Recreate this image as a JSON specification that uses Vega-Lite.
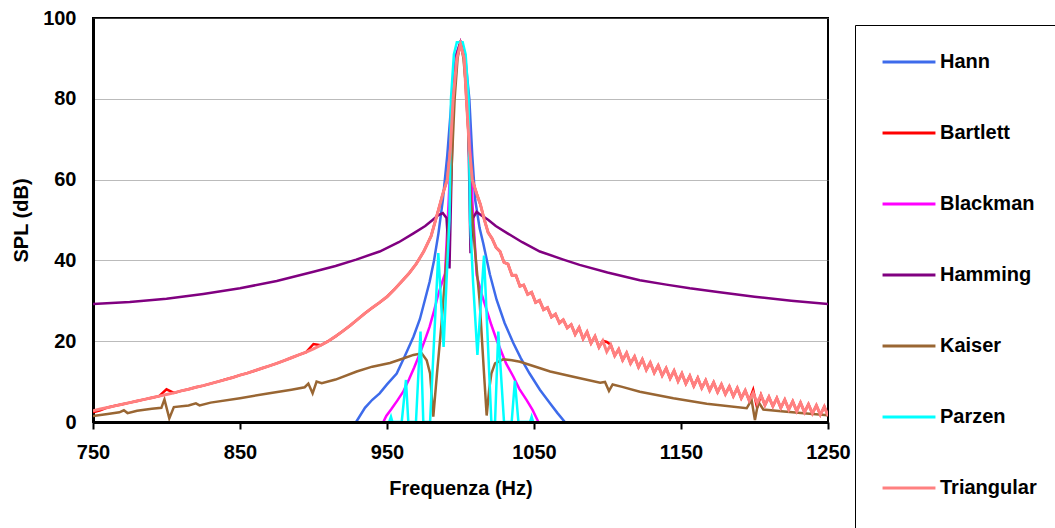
{
  "$schema": "https://vega.github.io/schema/vega-lite/v6.json",
  "width": 735,
  "height": 404,
  "autosize": {"type": "none"},
  "padding": {"left": 93, "top": 18, "right": 227, "bottom": 106},
  "background": "white",
  "config": {
    "font": "Liberation Sans",
    "view": {"stroke": "black", "strokeWidth": 2},
    "axis": {"labelFontWeight": "bold", "labelColor": "black", "labelFontSize": 20, "titleFontSize": 20, "titleFontWeight": "bold", "titleColor": "black", "domainColor": "black", "labelFlush": false}
  },
  "datasets": {
    "main": [
      {"s":"Hann","f":929,"v":0},{"s":"Hann","f":935,"v":3.5},{"s":"Hann","f":940,"v":5.5},{"s":"Hann","f":945,"v":7.1},{"s":"Hann","f":950,"v":9.3},{"s":"Hann","f":956.6,"v":12},{"s":"Hann","f":962,"v":16.2},{"s":"Hann","f":968,"v":21.1},{"s":"Hann","f":972.4,"v":25.5},{"s":"Hann","f":976,"v":30.5},{"s":"Hann","f":979,"v":34.7},{"s":"Hann","f":982,"v":40},{"s":"Hann","f":985,"v":46.7},{"s":"Hann","f":988,"v":55},{"s":"Hann","f":991,"v":66},{"s":"Hann","f":994,"v":80},{"s":"Hann","f":997,"v":91},{"s":"Hann","f":1000,"v":94},{"s":"Hann","f":1003,"v":91},{"s":"Hann","f":1006,"v":80},{"s":"Hann","f":1008,"v":66},{"s":"Hann","f":1010,"v":55},{"s":"Hann","f":1013,"v":48},{"s":"Hann","f":1015.5,"v":44.2},{"s":"Hann","f":1020,"v":36.5},{"s":"Hann","f":1024.6,"v":30.2},{"s":"Hann","f":1030,"v":24.5},{"s":"Hann","f":1036,"v":19.5},{"s":"Hann","f":1041,"v":15.8},{"s":"Hann","f":1047,"v":12},{"s":"Hann","f":1054,"v":8},{"s":"Hann","f":1061,"v":4.6},{"s":"Hann","f":1066,"v":2.2},{"s":"Hann","f":1071,"v":0},
      {"s":"Blackman","f":947.5,"v":0},{"s":"Blackman","f":949.5,"v":1.5},{"s":"Blackman","f":953,"v":3.2},{"s":"Blackman","f":957,"v":5.3},{"s":"Blackman","f":961,"v":7.5},{"s":"Blackman","f":965,"v":10.6},{"s":"Blackman","f":968.5,"v":13.5},{"s":"Blackman","f":972.4,"v":17},{"s":"Blackman","f":976,"v":20.5},{"s":"Blackman","f":979,"v":23.6},{"s":"Blackman","f":982,"v":27.5},{"s":"Blackman","f":985,"v":31.8},{"s":"Blackman","f":989.5,"v":36.8},{"s":"Blackman","f":992,"v":55},{"s":"Blackman","f":995,"v":80},{"s":"Blackman","f":997.5,"v":91},{"s":"Blackman","f":1000,"v":94},{"s":"Blackman","f":1002.5,"v":91},{"s":"Blackman","f":1005,"v":80},{"s":"Blackman","f":1008,"v":55},{"s":"Blackman","f":1011,"v":36.4},{"s":"Blackman","f":1014.5,"v":31.5},{"s":"Blackman","f":1017.8,"v":27.7},{"s":"Blackman","f":1021,"v":24},{"s":"Blackman","f":1024.6,"v":20.3},{"s":"Blackman","f":1028,"v":17.2},{"s":"Blackman","f":1031,"v":14.5},{"s":"Blackman","f":1036,"v":11.2},{"s":"Blackman","f":1040,"v":8.2},{"s":"Blackman","f":1045,"v":5.4},{"s":"Blackman","f":1049,"v":3},{"s":"Blackman","f":1053,"v":0},
      {"s":"Hamming","f":750,"v":29.2},{"s":"Hamming","f":775,"v":29.7},{"s":"Hamming","f":800,"v":30.5},{"s":"Hamming","f":825,"v":31.7},{"s":"Hamming","f":850,"v":33.1},{"s":"Hamming","f":875,"v":34.9},{"s":"Hamming","f":900,"v":37.2},{"s":"Hamming","f":915,"v":38.6},{"s":"Hamming","f":929,"v":40.2},{"s":"Hamming","f":945,"v":42.2},{"s":"Hamming","f":958,"v":44.5},{"s":"Hamming","f":968,"v":46.7},{"s":"Hamming","f":976,"v":48.5},{"s":"Hamming","f":981,"v":50},{"s":"Hamming","f":985,"v":51.2},{"s":"Hamming","f":988,"v":51.7},{"s":"Hamming","f":990.5,"v":50.5},{"s":"Hamming","f":992.5,"v":38},{"s":"Hamming","f":995,"v":80},{"s":"Hamming","f":997.5,"v":91},{"s":"Hamming","f":1000,"v":94},{"s":"Hamming","f":1002.5,"v":91},{"s":"Hamming","f":1005,"v":80},{"s":"Hamming","f":1006.8,"v":41.8},{"s":"Hamming","f":1008.5,"v":50.5},{"s":"Hamming","f":1011,"v":52},{"s":"Hamming","f":1014,"v":51.2},{"s":"Hamming","f":1019,"v":50},{"s":"Hamming","f":1024,"v":48.5},{"s":"Hamming","f":1032,"v":46.7},{"s":"Hamming","f":1042,"v":44.5},{"s":"Hamming","f":1054,"v":42.2},{"s":"Hamming","f":1070,"v":40.2},{"s":"Hamming","f":1081,"v":38.9},{"s":"Hamming","f":1100,"v":37},{"s":"Hamming","f":1122,"v":35.1},{"s":"Hamming","f":1140,"v":34},{"s":"Hamming","f":1156,"v":33.1},{"s":"Hamming","f":1175,"v":32.2},{"s":"Hamming","f":1200,"v":31},{"s":"Hamming","f":1225,"v":30},{"s":"Hamming","f":1250,"v":29.2},
      {"s":"Kaiser","f":750,"v":1.5},{"s":"Kaiser","f":760,"v":2},{"s":"Kaiser","f":768,"v":2.4},{"s":"Kaiser","f":771,"v":2.9},{"s":"Kaiser","f":773.5,"v":2.2},{"s":"Kaiser","f":780,"v":2.8},{"s":"Kaiser","f":790,"v":3.3},{"s":"Kaiser","f":796.5,"v":3.5},{"s":"Kaiser","f":798.6,"v":5.6},{"s":"Kaiser","f":801.9,"v":0.9},{"s":"Kaiser","f":805,"v":3.7},{"s":"Kaiser","f":815,"v":4.1},{"s":"Kaiser","f":820,"v":4.6},{"s":"Kaiser","f":822.5,"v":4.1},{"s":"Kaiser","f":830,"v":4.8},{"s":"Kaiser","f":850,"v":5.9},{"s":"Kaiser","f":870,"v":7.1},{"s":"Kaiser","f":885,"v":8},{"s":"Kaiser","f":894,"v":8.6},{"s":"Kaiser","f":896.5,"v":9.5},{"s":"Kaiser","f":899.4,"v":7.1},{"s":"Kaiser","f":902.1,"v":10},{"s":"Kaiser","f":905.6,"v":9.6},{"s":"Kaiser","f":915,"v":10.5},{"s":"Kaiser","f":929.4,"v":12.5},{"s":"Kaiser","f":940,"v":13.7},{"s":"Kaiser","f":952,"v":14.6},{"s":"Kaiser","f":960,"v":15.6},{"s":"Kaiser","f":968,"v":16.6},{"s":"Kaiser","f":973.6,"v":17},{"s":"Kaiser","f":977,"v":15.3},{"s":"Kaiser","f":979.3,"v":12},{"s":"Kaiser","f":981.5,"v":1.3},{"s":"Kaiser","f":984,"v":12},{"s":"Kaiser","f":987,"v":24},{"s":"Kaiser","f":990,"v":38},{"s":"Kaiser","f":993,"v":55},{"s":"Kaiser","f":996,"v":80},{"s":"Kaiser","f":998,"v":90},{"s":"Kaiser","f":1000,"v":94},{"s":"Kaiser","f":1002,"v":90},{"s":"Kaiser","f":1004.5,"v":80},{"s":"Kaiser","f":1007,"v":55},{"s":"Kaiser","f":1010,"v":42},{"s":"Kaiser","f":1013,"v":30},{"s":"Kaiser","f":1016,"v":12},{"s":"Kaiser","f":1017.8,"v":1.6},{"s":"Kaiser","f":1019.5,"v":8},{"s":"Kaiser","f":1021,"v":12},{"s":"Kaiser","f":1023.5,"v":14.5},{"s":"Kaiser","f":1029,"v":15.5},{"s":"Kaiser","f":1035,"v":15.3},{"s":"Kaiser","f":1040.5,"v":14.9},{"s":"Kaiser","f":1050,"v":13.8},{"s":"Kaiser","f":1061,"v":12.5},{"s":"Kaiser","f":1076.7,"v":11.2},{"s":"Kaiser","f":1095,"v":9.7},{"s":"Kaiser","f":1098.3,"v":9.9},{"s":"Kaiser","f":1101,"v":7.7},{"s":"Kaiser","f":1103.5,"v":9.3},{"s":"Kaiser","f":1110,"v":8.7},{"s":"Kaiser","f":1122,"v":7.5},{"s":"Kaiser","f":1144.8,"v":5.9},{"s":"Kaiser","f":1167.5,"v":4.5},{"s":"Kaiser","f":1194.7,"v":3.4},{"s":"Kaiser","f":1198,"v":5.5},{"s":"Kaiser","f":1200.3,"v":0.5},{"s":"Kaiser","f":1202.6,"v":5},{"s":"Kaiser","f":1206,"v":3.1},{"s":"Kaiser","f":1220,"v":2.6},{"s":"Kaiser","f":1235.5,"v":2.1},{"s":"Kaiser","f":1250,"v":1.7},
      {"s":"Parzen","f":951.5,"v":0},{"s":"Parzen","f":952.7,"v":1.3},{"s":"Parzen","f":953.7,"v":0},{"s":"Parzen","f":960,"v":0},{"s":"Parzen","f":962.9,"v":10.4},{"s":"Parzen","f":964.5,"v":0},{"s":"Parzen","f":969.7,"v":0},{"s":"Parzen","f":972.8,"v":22.4},{"s":"Parzen","f":974.7,"v":0},{"s":"Parzen","f":979.3,"v":0},{"s":"Parzen","f":984.9,"v":41.8},{"s":"Parzen","f":988.5,"v":18.6},{"s":"Parzen","f":990.5,"v":35},{"s":"Parzen","f":992.5,"v":50},{"s":"Parzen","f":993.5,"v":80},{"s":"Parzen","f":995.5,"v":91},{"s":"Parzen","f":997.5,"v":94},{"s":"Parzen","f":1001.5,"v":94},{"s":"Parzen","f":1003.5,"v":91},{"s":"Parzen","f":1005.5,"v":80},{"s":"Parzen","f":1006.5,"v":50},{"s":"Parzen","f":1008.5,"v":35},{"s":"Parzen","f":1011.5,"v":16.6},{"s":"Parzen","f":1016,"v":41.2},{"s":"Parzen","f":1021,"v":0},{"s":"Parzen","f":1023.5,"v":0},{"s":"Parzen","f":1025.7,"v":22.4},{"s":"Parzen","f":1029.6,"v":0},{"s":"Parzen","f":1034.8,"v":0},{"s":"Parzen","f":1037,"v":10.2},{"s":"Parzen","f":1039.4,"v":0},{"s":"Parzen","f":1047.3,"v":0},{"s":"Parzen","f":1048.4,"v":1.3},{"s":"Parzen","f":1049.4,"v":0}
    ],
    "tb": [
      {"f":750,"Triangular":2.8,"Bartlett":2.4},{"f":755,"Triangular":3.2,"Bartlett":2.9},{"f":760,"Triangular":3.6,"Bartlett":3.6},{"f":765,"Triangular":4,"Bartlett":4},{"f":770,"Triangular":4.4,"Bartlett":4.4},{"f":775,"Triangular":4.8,"Bartlett":4.8},{"f":780,"Triangular":5.2,"Bartlett":5.2},{"f":785,"Triangular":5.6,"Bartlett":5.6},{"f":790,"Triangular":6,"Bartlett":6},{"f":795,"Triangular":6.4,"Bartlett":6.4},{"f":800,"Triangular":6.8,"Bartlett":8.1},{"f":805,"Triangular":7.2,"Bartlett":7.2},{"f":810,"Triangular":7.7,"Bartlett":7.7},{"f":815,"Triangular":8.1,"Bartlett":8.1},{"f":820,"Triangular":8.6,"Bartlett":8.6},{"f":825,"Triangular":9,"Bartlett":9},{"f":830,"Triangular":9.5,"Bartlett":9.5},{"f":835,"Triangular":10,"Bartlett":10},{"f":840,"Triangular":10.5,"Bartlett":10.5},{"f":845,"Triangular":11,"Bartlett":11},{"f":850,"Triangular":11.6,"Bartlett":11.6},{"f":855,"Triangular":12.1,"Bartlett":12.1},{"f":860,"Triangular":12.7,"Bartlett":12.7},{"f":865,"Triangular":13.3,"Bartlett":13.3},{"f":870,"Triangular":13.9,"Bartlett":13.9},{"f":875,"Triangular":14.5,"Bartlett":14.5},{"f":880,"Triangular":15.2,"Bartlett":15.2},{"f":885,"Triangular":15.9,"Bartlett":15.9},{"f":890,"Triangular":16.6,"Bartlett":16.6},{"f":895,"Triangular":17.3,"Bartlett":17.3},{"f":900,"Triangular":18.1,"Bartlett":19.3},{"f":905,"Triangular":19,"Bartlett":19},{"f":910,"Triangular":20,"Bartlett":20},{"f":915,"Triangular":21.2,"Bartlett":21.2},{"f":920,"Triangular":22.5,"Bartlett":22.5},{"f":925,"Triangular":23.9,"Bartlett":23.9},{"f":930,"Triangular":25.4,"Bartlett":25.4},{"f":935,"Triangular":26.9,"Bartlett":26.9},{"f":940,"Triangular":28.3,"Bartlett":28.3},{"f":945,"Triangular":29.6,"Bartlett":29.6},{"f":950,"Triangular":31,"Bartlett":31},{"f":955,"Triangular":32.8,"Bartlett":32.8},{"f":960,"Triangular":34.8,"Bartlett":34.8},{"f":965,"Triangular":36.8,"Bartlett":36.8},{"f":970,"Triangular":39.2,"Bartlett":39.2},{"f":975,"Triangular":42.2,"Bartlett":42.2},{"f":980,"Triangular":46,"Bartlett":46},{"f":985,"Triangular":52.5,"Bartlett":52.5},{"f":988,"Triangular":56.5,"Bartlett":56.5},{"f":991,"Triangular":60,"Bartlett":60},{"f":993,"Triangular":67,"Bartlett":67},{"f":995,"Triangular":80,"Bartlett":80},{"f":997.5,"Triangular":90,"Bartlett":90},{"f":1000,"Triangular":93.5,"Bartlett":93.5},{"f":1002.5,"Triangular":90,"Bartlett":90},{"f":1004,"Triangular":80,"Bartlett":80},{"f":1006,"Triangular":68,"Bartlett":68},{"f":1008,"Triangular":60,"Bartlett":60},{"f":1011,"Triangular":56.5,"Bartlett":56.5},
      {"f":1013.5,"Triangular":53.9,"Bartlett":53.9},{"f":1016.1,"Triangular":50.2,"Bartlett":50.2},{"f":1018.8,"Triangular":46.9,"Bartlett":46.9},{"f":1021.5,"Triangular":45.4,"Bartlett":45.4},{"f":1024.2,"Triangular":43.2,"Bartlett":43.2},{"f":1026.9,"Triangular":42.2,"Bartlett":42.2},{"f":1029.6,"Triangular":39.5,"Bartlett":39.5},{"f":1032.3,"Triangular":39.1,"Bartlett":39.1},{"f":1035,"Triangular":36.3,"Bartlett":36.3},{"f":1037.7,"Triangular":36.3,"Bartlett":36.3},{"f":1040.4,"Triangular":33.6,"Bartlett":33.6},{"f":1043,"Triangular":33.9,"Bartlett":33.9},{"f":1045.7,"Triangular":31.6,"Bartlett":31.6},{"f":1048.4,"Triangular":32.1,"Bartlett":32.1},{"f":1051.1,"Triangular":29.6,"Bartlett":29.6},{"f":1053.8,"Triangular":30.1,"Bartlett":30.1},{"f":1056.5,"Triangular":27.8,"Bartlett":27.8},{"f":1059.2,"Triangular":28.3,"Bartlett":28.3},{"f":1061.9,"Triangular":26,"Bartlett":26},{"f":1064.6,"Triangular":26.7,"Bartlett":26.7},{"f":1067.3,"Triangular":24.5,"Bartlett":24.5},{"f":1069.9,"Triangular":25.3,"Bartlett":25.3},{"f":1072.6,"Triangular":23.3,"Bartlett":23.3},{"f":1075.3,"Triangular":24.1,"Bartlett":24.1},{"f":1078,"Triangular":21.7,"Bartlett":21.7},{"f":1080.7,"Triangular":23.4,"Bartlett":23.4},{"f":1083.4,"Triangular":20.6,"Bartlett":20.6},{"f":1086.1,"Triangular":22.3,"Bartlett":22.3},{"f":1088.8,"Triangular":19.5,"Bartlett":19.5},{"f":1091.5,"Triangular":21.2,"Bartlett":21.2},{"f":1094.2,"Triangular":18.5,"Bartlett":18.5},{"f":1096.8,"Triangular":20.1,"Bartlett":20.1},{"f":1099.5,"Triangular":17.4,"Bartlett":19.8},{"f":1102.2,"Triangular":19.1,"Bartlett":19.1},{"f":1104.9,"Triangular":16.4,"Bartlett":16.4},{"f":1107.6,"Triangular":18,"Bartlett":18},{"f":1110.3,"Triangular":15.3,"Bartlett":15.3},{"f":1113,"Triangular":17.1,"Bartlett":17.1},{"f":1115.7,"Triangular":14.5,"Bartlett":14.5},{"f":1118.4,"Triangular":16.2,"Bartlett":16.2},{"f":1121.1,"Triangular":13.6,"Bartlett":13.6},{"f":1123.7,"Triangular":15.5,"Bartlett":15.5},{"f":1126.4,"Triangular":12.9,"Bartlett":12.9},{"f":1129.1,"Triangular":14.7,"Bartlett":14.7},{"f":1131.8,"Triangular":12.2,"Bartlett":12.2},{"f":1134.5,"Triangular":14,"Bartlett":14},{"f":1137.2,"Triangular":11.5,"Bartlett":11.5},{"f":1139.9,"Triangular":13.3,"Bartlett":13.3},{"f":1142.6,"Triangular":10.8,"Bartlett":10.8},{"f":1145.3,"Triangular":12.7,"Bartlett":12.7},{"f":1148,"Triangular":10.1,"Bartlett":10.1},{"f":1150.6,"Triangular":12,"Bartlett":12},{"f":1153.3,"Triangular":9.5,"Bartlett":9.5},{"f":1156,"Triangular":11.4,"Bartlett":11.4},{"f":1158.7,"Triangular":8.9,"Bartlett":8.9},{"f":1161.4,"Triangular":10.9,"Bartlett":10.9},{"f":1164.1,"Triangular":8.4,"Bartlett":8.4},{"f":1166.8,"Triangular":10.3,"Bartlett":10.3},{"f":1169.5,"Triangular":7.8,"Bartlett":7.8},{"f":1172.2,"Triangular":9.8,"Bartlett":9.8},{"f":1174.9,"Triangular":7.4,"Bartlett":7.4},{"f":1177.5,"Triangular":9.3,"Bartlett":9.3},{"f":1180.2,"Triangular":6.9,"Bartlett":6.9},{"f":1182.9,"Triangular":8.8,"Bartlett":8.8},{"f":1185.6,"Triangular":6.4,"Bartlett":6.4},{"f":1188.3,"Triangular":8.4,"Bartlett":8.4},{"f":1191,"Triangular":5.9,"Bartlett":5.9},{"f":1193.7,"Triangular":7.8,"Bartlett":7.8},{"f":1196.4,"Triangular":5.3,"Bartlett":5.3},{"f":1199.1,"Triangular":7.2,"Bartlett":8},{"f":1201.8,"Triangular":4.7,"Bartlett":3.5},{"f":1204.4,"Triangular":6.7,"Bartlett":6.7},{"f":1207.1,"Triangular":4.2,"Bartlett":4.2},{"f":1209.8,"Triangular":6.2,"Bartlett":6.2},{"f":1212.5,"Triangular":3.9,"Bartlett":3.9},{"f":1215.2,"Triangular":5.9,"Bartlett":5.9},{"f":1217.9,"Triangular":3.5,"Bartlett":3.5},{"f":1220.6,"Triangular":5.5,"Bartlett":5.5},{"f":1223.3,"Triangular":3.1,"Bartlett":3.1},{"f":1226,"Triangular":5.1,"Bartlett":5.1},{"f":1228.7,"Triangular":2.7,"Bartlett":2.7},{"f":1231.3,"Triangular":4.8,"Bartlett":4.8},{"f":1234,"Triangular":2.4,"Bartlett":2.4},{"f":1236.7,"Triangular":4.4,"Bartlett":4.4},{"f":1239.4,"Triangular":2.1,"Bartlett":2.1},{"f":1242.1,"Triangular":4.1,"Bartlett":4.1},{"f":1244.8,"Triangular":1.8,"Bartlett":1.8},{"f":1247.5,"Triangular":3.8,"Bartlett":3.8},{"f":1250,"Triangular":1.5,"Bartlett":1.5}
    ]
  },
  "encoding": {
    "x": {"field": "f", "type": "quantitative", "scale": {"domain": [750, 1250], "nice": false, "zero": false},
      "axis": {"title": "Frequenza (Hz)", "values": [750, 850, 950, 1050, 1150, 1250], "format": "d", "grid": false, "domainWidth": 3, "tickColor": "black", "tickWidth": 2, "tickSize": 7, "labelPadding": 13, "titlePadding": 16, "zindex": 1}},
    "y": {"field": "v", "type": "quantitative", "scale": {"domain": [0, 100], "nice": false},
      "axis": {"title": "SPL (dB)", "values": [0, 20, 40, 60, 80, 100], "ticks": false, "tickSize": 0, "domainWidth": 3, "labelPadding": 17, "titlePadding": 11, "grid": true, "gridColor": "#777777", "gridDash": [1, 1], "gridWidth": 1, "zindex": 0}},
    "color": {"field": "s", "type": "nominal",
      "scale": {"domain": ["Hann", "Bartlett", "Blackman", "Hamming", "Kaiser", "Parzen", "Triangular"], "range": ["#3D6BEB", "#FF0000", "#FF00FF", "#800080", "#996633", "#00FFFF", "#FF8080"]},
      "legend": {"orient": "none", "legendX": 762, "legendY": 7, "title": " ", "titleOrient": "bottom", "titleFontSize": 10, "titlePadding": 5,
        "symbolType": "M-5,0H5", "symbolSize": 112, "symbolStrokeWidth": 3, "symbolOffset": 17, "labelOffset": 21,
        "labelFontSize": 20, "labelFontWeight": "bold", "labelColor": "black", "labelFont": "Liberation Sans",
        "rowPadding": 51, "padding": 27, "strokeColor": "black", "fillColor": "white"}}
  },
  "layer": [
    {"data": {"name": "main"}, "transform": [{"filter": "datum.s === 'Hann'"}], "mark": {"type": "line", "strokeWidth": 2.5, "clip": true}},
    {"data": {"name": "tb"}, "transform": [{"fold": ["Bartlett"], "as": ["s", "v"]}], "mark": {"type": "line", "strokeWidth": 2.5, "clip": true}},
    {"data": {"name": "main"}, "transform": [{"filter": "datum.s === 'Blackman'"}], "mark": {"type": "line", "strokeWidth": 2.5, "clip": true}},
    {"data": {"name": "main"}, "transform": [{"filter": "datum.s === 'Hamming'"}], "mark": {"type": "line", "strokeWidth": 2.5, "clip": true}},
    {"data": {"name": "main"}, "transform": [{"filter": "datum.s === 'Kaiser'"}], "mark": {"type": "line", "strokeWidth": 2.5, "clip": true}},
    {"data": {"name": "main"}, "transform": [{"filter": "datum.s === 'Parzen'"}], "mark": {"type": "line", "strokeWidth": 2.5, "clip": true}},
    {"data": {"name": "tb"}, "transform": [{"fold": ["Triangular"], "as": ["s", "v"]}], "mark": {"type": "line", "strokeWidth": 3, "clip": true}}
  ]
}
